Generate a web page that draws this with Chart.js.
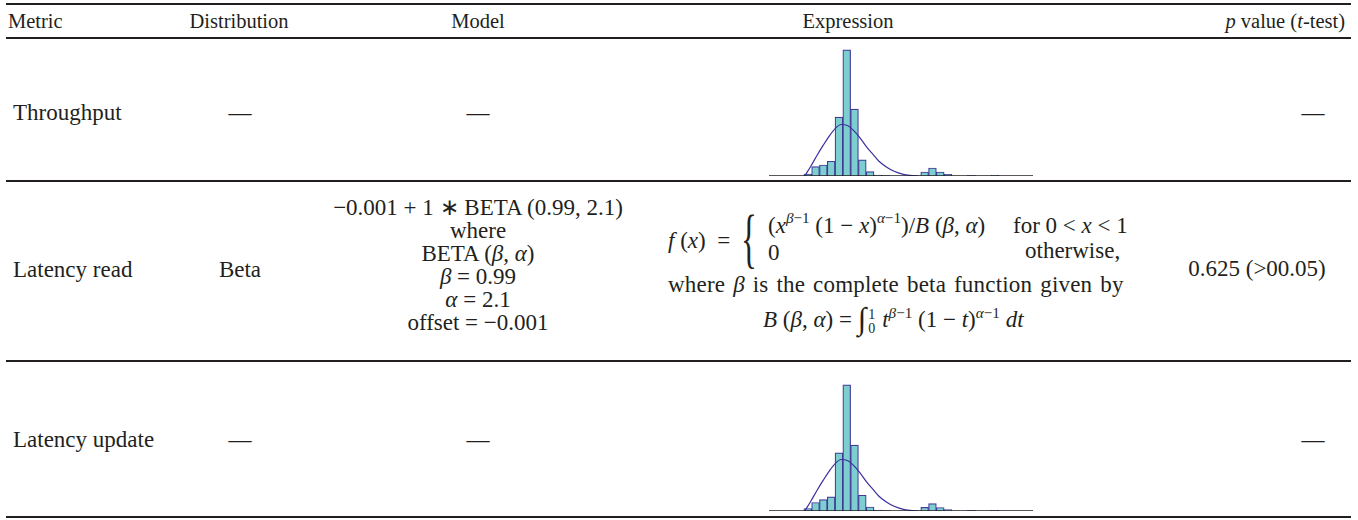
<!DOCTYPE html>
<html>
<head>
<meta charset="utf-8">
<script src="https://cdn.jsdelivr.net/npm/chart.js@4.4.0/dist/chart.umd.min.js"></script>
<style>
  html, body { margin: 0; padding: 0; background: #fff; }
  #page { position: relative; width: 1358px; height: 520px; font-family: "Liberation Serif", "Times New Roman", serif; font-size: 23px; color: #231f20; }
  .rule { position: absolute; left: 6px; width: 1345px; background: #231f20; }
  .t { position: absolute; white-space: nowrap; line-height: 1; }
  .l { transform: translateY(-50%); }
  .c { transform: translate(-50%, -50%); text-align: center; }
  .r { transform: translateY(-50%); }
  .hd { font-size: 20.5px; }
  i { font-style: italic; }
  sup { font-size: 0.66em; vertical-align: 0.6em; line-height: 0; }
  .model { line-height: 23px; }
  .brace { font-size: 66px; font-weight: 100; transform: translateY(-50%) scaleX(0.5); transform-origin: left center; }
  .int { font-size: 1.35em; vertical-align: -2px; }
  .lims { display: inline-flex; flex-direction: column; font-size: 14px; line-height: 14px; vertical-align: middle; margin: 0 7px 0 2px; }
  .wide { word-spacing: 2px; letter-spacing: 0.2px; }
  canvas { position: absolute; }
</style>
</head>
<body>
<div id="page">
  <div class="rule" style="top:3px;height:2px"></div>
  <div class="rule" style="top:37px;height:2px"></div>
  <div class="rule" style="top:180px;height:2px"></div>
  <div class="rule" style="top:360px;height:1.5px"></div>
  <div class="rule" style="top:516px;height:2px"></div>

  <!-- header -->
  <div class="t l hd" style="left:8px;top:21px">Metric</div>
  <div class="t c hd" style="left:239px;top:21px">Distribution</div>
  <div class="t c hd" style="left:478px;top:21px">Model</div>
  <div class="t c hd" style="left:848px;top:21px">Expression</div>
  <div class="t r hd" style="right:13px;top:21px"><i>p</i> value (<i>t</i>-test)</div>

  <!-- row 1 -->
  <div class="t l" style="left:13px;top:112px">Throughput</div>
  <div class="t c" style="left:240px;top:112px">—</div>
  <div class="t c" style="left:478px;top:112px">—</div>
  <div class="t c" style="left:1313px;top:112px">—</div>
  <canvas id="histThroughput" width="264" height="132" style="left:769px;top:44px"></canvas>

  <!-- row 2 -->
  <div class="t l" style="left:13px;top:269px">Latency read</div>
  <div class="t c" style="left:240px;top:269px">Beta</div>
  <div class="t c model" style="left:478px;top:265px">
    −0.001 + 1 ∗ BETA (0.99, 2.1)<br>where<br>BETA (<i>β</i>, <i>α</i>)<br><i>β</i> = 0.99<br><i>α</i> = 2.1<br>offset = −0.001
  </div>
  <div class="t l" style="left:668px;top:240px"><i>f</i> (<i>x</i>) &nbsp;=</div>
  <div class="t brace" style="left:741px;top:238px">{</div>
  <div class="t l" style="left:768px;top:225px">(<i>x</i><sup><i>β</i>−1</sup> (1 − <i>x</i>)<sup><i>α</i>−1</sup>)/<i>B</i> (<i>β</i>, <i>α</i>)</div>
  <div class="t l" style="left:1013px;top:225px">for 0 &lt; <i>x</i> &lt; 1</div>
  <div class="t l" style="left:768px;top:252px">0</div>
  <div class="t l" style="left:1025px;top:250px">otherwise,</div>
  <div class="t l wide" style="left:668px;top:284px">where <i>β</i> is the complete beta function given by</div>
  <div class="t l" style="left:763px;top:319px"><i>B</i> (<i>β</i>, <i>α</i>) = <span class="int">∫</span><span class="lims"><span>1</span><span>0</span></span><i>t</i><sup><i>β</i>−1</sup> (1 − <i>t</i>)<sup><i>α</i>−1</sup> <i>dt</i></div>
  <div class="t c" style="left:1257px;top:268px">0.625 (&gt;00.05)</div>

  <!-- row 3 -->
  <div class="t l" style="left:13px;top:439px">Latency update</div>
  <div class="t c" style="left:240px;top:439px">—</div>
  <div class="t c" style="left:478px;top:439px">—</div>
  <div class="t c" style="left:1313px;top:439px">—</div>
  <canvas id="histUpdate" width="264" height="132" style="left:769px;top:379px"></canvas>
</div>

<script>
// histogram bins (bin index 0..24), bar heights
const bins = [0, 1, 2, 3, 4, 5, 6, 7, 8, 9, 10, 11, 12, 13, 14, 15, 16, 17, 18, 19, 20, 21, 22, 23, 24];
const throughputCounts = [2, 9.3, 11, 14.7, 58.7, 125.7, 66.7, 16, 4.3, 1, 0.4, 0, 0, 0, 0, 4, 8, 4, 1.7, 0, 0, 0.7, 0, 0, 0.7];
const updateCounts = [2.5, 8.5, 11.3, 14, 58, 125.7, 65.7, 15.7, 4, 1, 0.4, 0, 0, 0, 0, 3.7, 7.3, 3.5, 1.5, 0, 0, 0.7, 0, 0, 0.7];

// fitted density curve, sampled along the same bin axis
const curveX = [-0.38, 0.41, 1.2, 1.99, 2.78, 3.57, 4.28, 5.15, 5.94, 6.73, 7.52, 8.31, 9.1, 10.09, 11.08, 12.27, 13.45, 14.24];
const throughputCurve = [0, 10, 20.7, 30.7, 40, 47.7, 51.3, 50, 45, 37.7, 29.3, 22, 15, 9, 4.7, 1.7, 0.3, 0];
const updateCurve = [0, 10, 20.7, 30.7, 40, 47.7, 51.3, 50, 45, 37.7, 29.3, 22, 15, 9, 4.7, 1.7, 0.3, 0];

const barFill = 'rgb(125, 207, 207)';
const barEdge = 'rgb(66, 58, 152)';
const curveColor = 'rgb(58, 48, 160)';

// baseline drawn over the bars at y = 0
const baselinePlugin = {
    id: 'baseline',
    afterDatasetsDraw(chart) {
        const { ctx, chartArea, scales } = chart;
        const y = scales.y.getPixelForValue(0);
        ctx.save();
        ctx.strokeStyle = '#231f20';
        ctx.lineWidth = 1.6;
        ctx.beginPath();
        ctx.moveTo(chartArea.left, y);
        ctx.lineTo(chartArea.right, y);
        ctx.stroke();
        ctx.restore();
    }
};

function drawHistogram(id, counts, curve) {
    const ctx = document.getElementById(id).getContext('2d');
    return new Chart(ctx, {
        type: 'bar',
        data: {
            datasets: [
                {
                    type: 'line',
                    data: curveX.map((x, i) => ({ x: x, y: curve[i] })),
                    borderColor: curveColor,
                    borderWidth: 1.2,
                    pointRadius: 0,
                    cubicInterpolationMode: 'monotone',
                    fill: false,
                    clip: false,
                    order: 0
                },
                {
                    type: 'bar',
                    data: bins.map((b, i) => ({ x: b, y: counts[i] })),
                    backgroundColor: barFill,
                    borderColor: barEdge,
                    borderWidth: 1.2,
                    barPercentage: 1,
                    categoryPercentage: 1,
                    order: 1
                }
            ]
        },
        options: {
            responsive: false,
            animation: false,
            layout: { padding: 0 },
            plugins: { legend: { display: false }, tooltip: { enabled: false } },
            scales: {
                x: {
                    type: 'linear', min: -3.67, max: 27.6, display: false,
                    // one tick per bin so bar width is one bin
                    afterBuildTicks: (axis) => { axis.ticks = bins.map(v => ({ value: v })); }
                },
                y: { min: 0, max: 131.5, display: false }
            }
        },
        plugins: [baselinePlugin]
    });
}

drawHistogram('histThroughput', throughputCounts, throughputCurve);
drawHistogram('histUpdate', updateCounts, updateCurve);
</script>
</body>
</html>
